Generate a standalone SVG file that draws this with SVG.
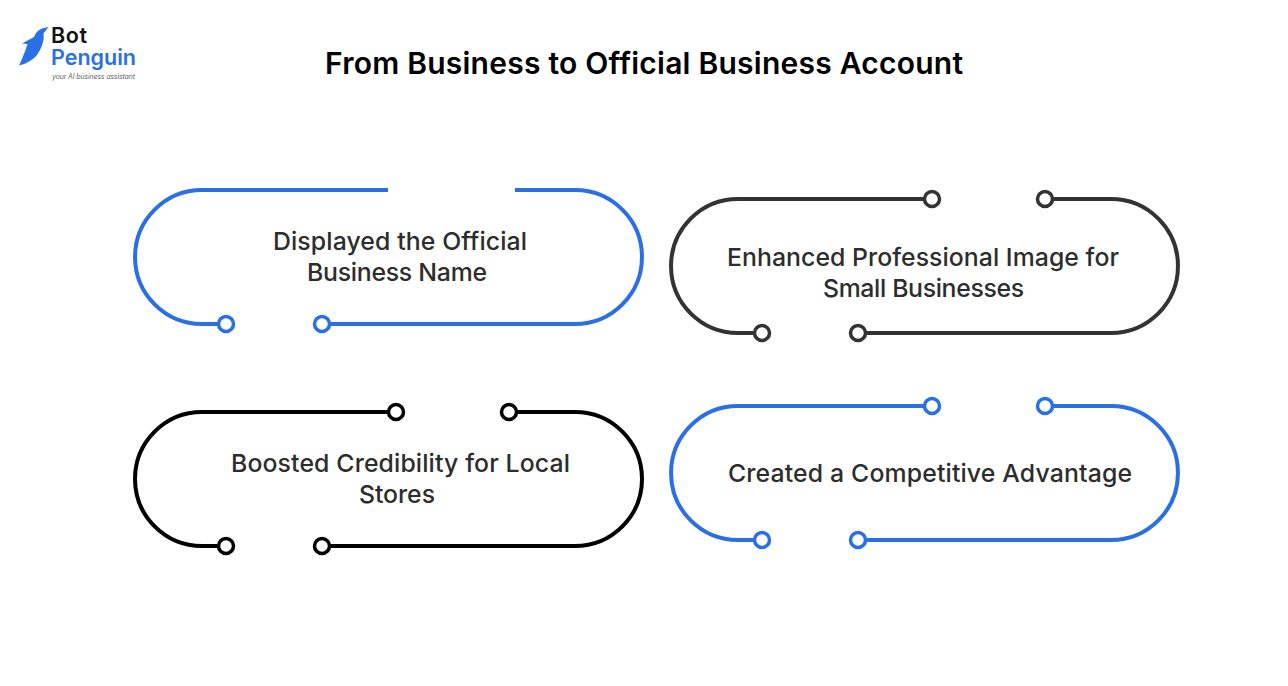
<svg xmlns="http://www.w3.org/2000/svg" width="1288" height="686" viewBox="0 0 1288 686">
<style>
.t{font-family:"Inter","Liberation Sans",sans-serif;font-size:24.800px;font-weight:500;fill:#2d2d2d;text-anchor:middle}
.h{font-family:"Inter","Liberation Sans",sans-serif;font-size:30px;font-weight:600;fill:#000;text-anchor:middle}
.l{fill:none;stroke-width:4}
.d{fill:#fff;stroke-width:3.5}
.b{stroke:#2a6fe3}.g{stroke:#333}.k{stroke:#000}
</style>
<rect width="1288" height="686" fill="#fff"/>
<g id="logo">
<path d="M48.500 27L42 28.500C38 30 35.500 33 34 37L22 43.500L27.500 44C25 52 21.500 60 19 65.500C26 64 33 60 37 55C42 48 44.500 40 43.500 33.500Z" fill="#2a6fe3"/>
<text x="51" y="43" font-family="Inter,'Liberation Sans',sans-serif" font-size="21.500" font-weight="600" fill="#111" textLength="36">Bot</text>
<text x="51" y="65" font-family="Inter,'Liberation Sans',sans-serif" font-size="21.500" font-weight="600" fill="#2a6fe3" textLength="85">Penguin</text>
<text x="52" y="79" font-family="Inter,'Liberation Sans',sans-serif" font-size="7" font-style="italic" fill="#666" textLength="83">your AI business assistant</text>
</g>
<text id="title" class="h" x="644" y="74" textLength="638">From Business to Official Business Account</text>
<g id="connectors">
<path class="l b" d="M388 190H202A67 67 0 0 0 202 324H226M322 324H575A67 67 0 0 0 575 190H515"/>
<path class="l g" d="M932 199H738A67 67 0 0 0 738 333H762M858 333H1111A67 67 0 0 0 1111 199H1045"/>
<path class="l k" d="M396 412H202A67 67 0 0 0 202 546H226M322 546H575A67 67 0 0 0 575 412H509"/>
<path class="l b" d="M932 406H738A67 67 0 0 0 738 540H762M858 540H1111A67 67 0 0 0 1111 406H1045"/>
</g>
<g id="node1">
<circle class="d b" cx="226" cy="324" r="7.500"/><circle class="d b" cx="322" cy="324" r="7.500"/>
<text class="t" x="400" y="250" textLength="254">Displayed the Official</text>
<text class="t" x="397" y="281" textLength="180">Business Name</text>
</g>
<g id="node2">
<circle class="d g" cx="932" cy="199" r="7.500"/><circle class="d g" cx="1045" cy="199" r="7.500"/><circle class="d g" cx="762" cy="333" r="7.500"/><circle class="d g" cx="858" cy="333" r="7.500"/>
<text class="t" x="923" y="266" textLength="392">Enhanced Professional Image for</text>
<text class="t" x="923.500" y="297" textLength="201">Small Businesses</text>
</g>
<g id="node3">
<circle class="d k" cx="396" cy="412" r="7.500"/><circle class="d k" cx="509" cy="412" r="7.500"/><circle class="d k" cx="226" cy="546" r="7.500"/><circle class="d k" cx="322" cy="546" r="7.500"/>
<text class="t" x="400.500" y="472" textLength="339">Boosted Credibility for Local</text>
<text class="t" x="397" y="503" textLength="76">Stores</text>
</g>
<g id="node4">
<circle class="d b" cx="932" cy="406" r="7.500"/><circle class="d b" cx="1045" cy="406" r="7.500"/><circle class="d b" cx="762" cy="540" r="7.500"/><circle class="d b" cx="858" cy="540" r="7.500"/>
<text class="t" x="930" y="482" textLength="404">Created a Competitive Advantage</text>
</g>
</svg>
